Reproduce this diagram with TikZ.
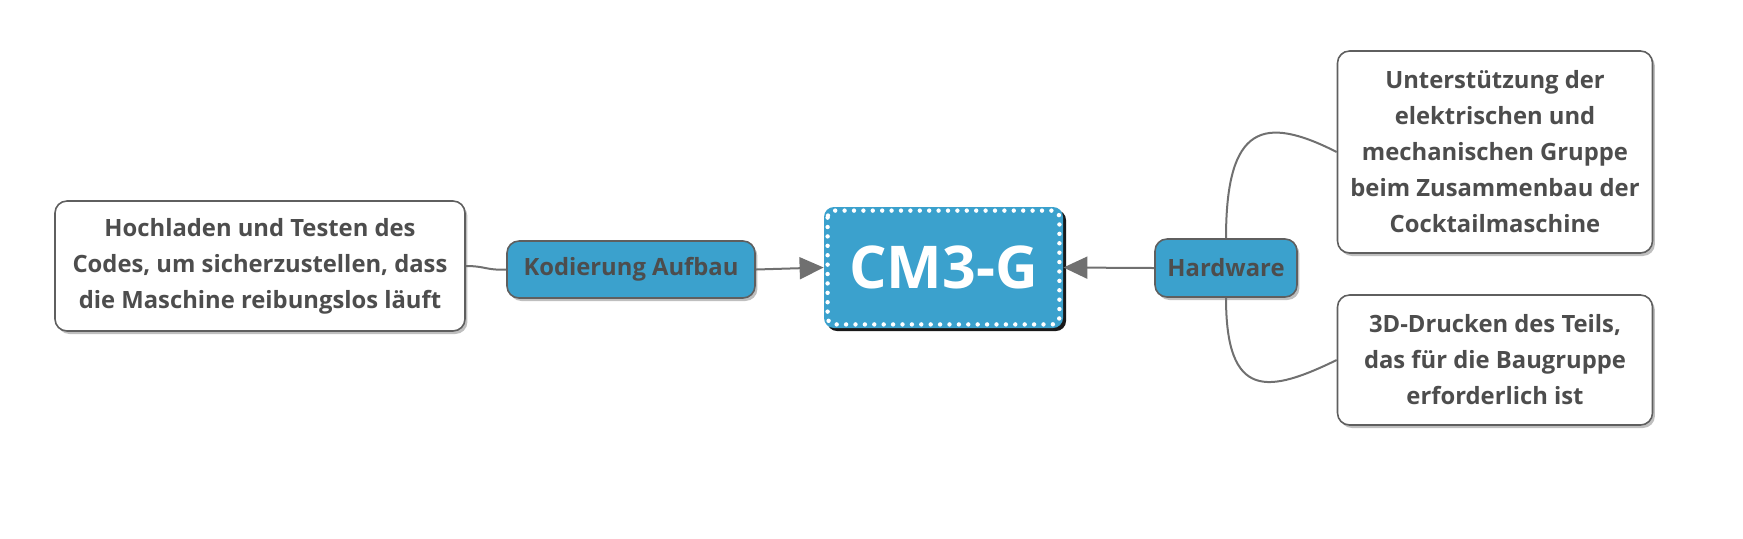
\documentclass[tikz,border=0pt]{standalone}
\usepackage{fontspec}
\setmainfont{Open Sans}
\usetikzlibrary{arrows.meta,shadows}
\definecolor{mapblue}{RGB}{59,161,205}
\definecolor{mapgray}{RGB}{77,77,77}
\definecolor{mapline}{RGB}{112,112,112}

\begin{document}
\begin{tikzpicture}[x=0.5pt,y=-0.5pt,
    leafbox/.style={rounded corners=6pt,draw=mapgray!90,line width=0.8pt,fill=white,
      text=mapgray,font=\bfseries\fontsize{11.9}{18}\selectfont,align=center,inner sep=0pt,
      drop shadow={shadow xshift=1.2pt,shadow yshift=-1.5pt,opacity=0.5}},
    branchbox/.style={leafbox,fill=mapblue},
    rootbox/.style={rounded corners=5pt,fill=mapblue,text=white,inner sep=0pt,
      font=\bfseries\fontsize{29.5}{34}\selectfont,minimum width=119.5pt,minimum height=60.5pt,
      drop shadow={shadow xshift=1.5pt,shadow yshift=-1.5pt,fill=black,opacity=0.9}},
    link/.style={draw=mapline,line width=1pt},
    tip/.style={-{Triangle[length=12pt,width=11pt]}}]
  \useasboundingbox (0,0) rectangle (1743,538);
  \node[rootbox] (cm) at (943.5,267.5) {CM3-G};
  \draw[white,line width=2.2pt,line cap=round,dash pattern=on 0pt off 4.7pt,rounded corners=3.5pt]
    ([xshift=2pt,yshift=-2pt]cm.north west) rectangle ([xshift=-2pt,yshift=2pt]cm.south east);
  \node[branchbox,minimum width=124pt,minimum height=28.5pt] (kod) at (631,269.5) {Kodierung Aufbau};
  \node[branchbox,minimum width=71pt,minimum height=29pt] (hw) at (1226,268) {Hardware};
  \node[leafbox,minimum width=205pt,minimum height=65pt] (hoch) at (260,266)
    {Hochladen und Testen des\\Codes, um sicherzustellen, dass\\die Maschine reibungslos läuft};
  \node[leafbox,minimum width=157.5pt,minimum height=101pt] (unt) at (1495,152)
    {Unterstützung der\\elektrischen und\\mechanischen Gruppe\\beim Zusammenbau der\\Cocktailmaschine};
  \node[leafbox,minimum width=157.5pt,minimum height=65pt] (druck) at (1495,360)
    {3D-Drucken des Teils,\\das für die Baugruppe\\erforderlich ist};

  \draw[link] (hoch.east) .. controls +(20,0) and +(-20,1) .. (kod.west);
  \draw[link,tip] (kod.east) -- (cm.west);
  \draw[link,tip] (hw.west) -- (cm.east);
  \draw[link] (hw.north) .. controls +(0,-114) and +(-73,-37) .. (unt.west);
  \draw[link] (hw.south) .. controls +(0,103) and +(-68,33) .. (druck.west);
\end{tikzpicture}
\end{document}
